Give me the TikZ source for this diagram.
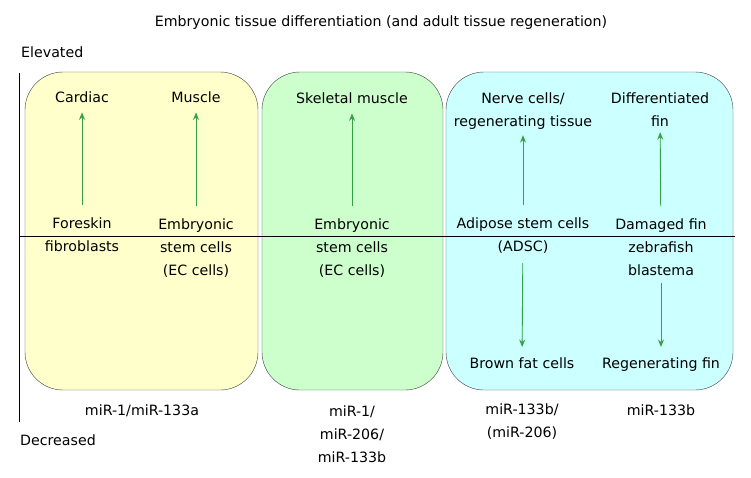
\documentclass[tikz,border=0pt]{standalone}
\usepackage{fontspec}
\setmainfont{DejaVu Sans}
\usetikzlibrary{positioning,arrows.meta}
\tikzset{>=stealth}
\definecolor{paleyellow}{RGB}{255,255,204}
\definecolor{palegreen}{RGB}{204,255,204}
\definecolor{palecyan}{RGB}{204,255,255}
\definecolor{arrowgreen}{RGB}{55,160,70}

\begin{document}
\begin{tikzpicture}[x=1pt,y=-1pt,
  lbl/.style={font=\fontsize{14.2}{23}\selectfont,align=center,inner sep=0pt,anchor=base},
  cellbox/.style={draw=black!75,rounded corners=38pt},
  grarrow/.style={-{Stealth[length=7.5pt,width=6pt]},line width=0.9pt,draw=arrowgreen,fill=arrowgreen,shorten >=10pt,shorten <=12pt}]
\useasboundingbox (0,0) rectangle (751,477);

% Coloured boxes
\draw[cellbox,fill=paleyellow] (25,72) rectangle (258,390);
\draw[cellbox,fill=palegreen] (262,72) rectangle (443,390);
\draw[cellbox,fill=palecyan] (446,72) rectangle (733,390);

% Axes
\coordinate (top) at (19,73);
\coordinate (bot) at (19,422);
\draw (top) -- (bot);
\draw (19,236) -- (735,236);

% Title and axis labels
\node[lbl] (title) at (381,26) {Embryonic tissue differentiation (and adult tissue regeneration)};
\node[lbl,anchor=base west] (elev) at (21,57) {Elevated};
\node[lbl,anchor=base west] (decr) at (20,445) {Decreased};

% Targets above (y = baseline of last line)
\node[lbl] (cardiac) at (82,102) {Cardiac};
\node[lbl] (muscle) at (196,102) {Muscle};
\node[lbl] (skeletal) at (352,103) {Skeletal muscle};
\node[lbl] (nerve) at (523,126) {Nerve cells/\\regenerating tissue};
\node[lbl] (difffin) at (660,126) {Differentiated\\fin};

% Sources on the line
\node[lbl] (foreskin) at (82,251) {Foreskin\\fibroblasts};
\node[lbl] (embryo) at (196,275) {Embryonic\\stem cells\\(EC cells)};
\node[lbl] (embryob) at (352,275) {Embryonic\\stem cells\\(EC cells)};
\node[lbl] (adsc) at (523,251) {Adipose stem cells\\(ADSC)};
\node[lbl] (damaged) at (661,275) {Damaged fin\\zebrafish\\blastema};

% Targets below
\node[lbl] (brown) at (522,368) {Brown fat cells};
\node[lbl] (regen) at (661,368) {Regenerating fin};

% microRNAs
\node[lbl] (mira) at (142,415) {miR-1/miR-133a};
\node[lbl] (mirb) at (352,462) {miR-1/\\miR-206/\\miR-133b};
\node[lbl] (mirc) at (522,437) {miR-133b/\\(miR-206)};
\node[lbl] (mird) at (661,415) {miR-133b};

% Arrows
\draw[grarrow] (foreskin) -- (cardiac);
\draw[grarrow] (embryo) -- (muscle);
\draw[grarrow] (embryob) -- (skeletal);
\draw[grarrow,shorten >=6pt] (adsc) -- (nerve);
\draw[grarrow,shorten >=6pt] (damaged) -- (difffin);
\draw[grarrow,shorten <=10pt] (adsc) -- (brown);
\draw[grarrow,shorten <=8pt] (damaged) -- (regen);
\end{tikzpicture}
\end{document}
